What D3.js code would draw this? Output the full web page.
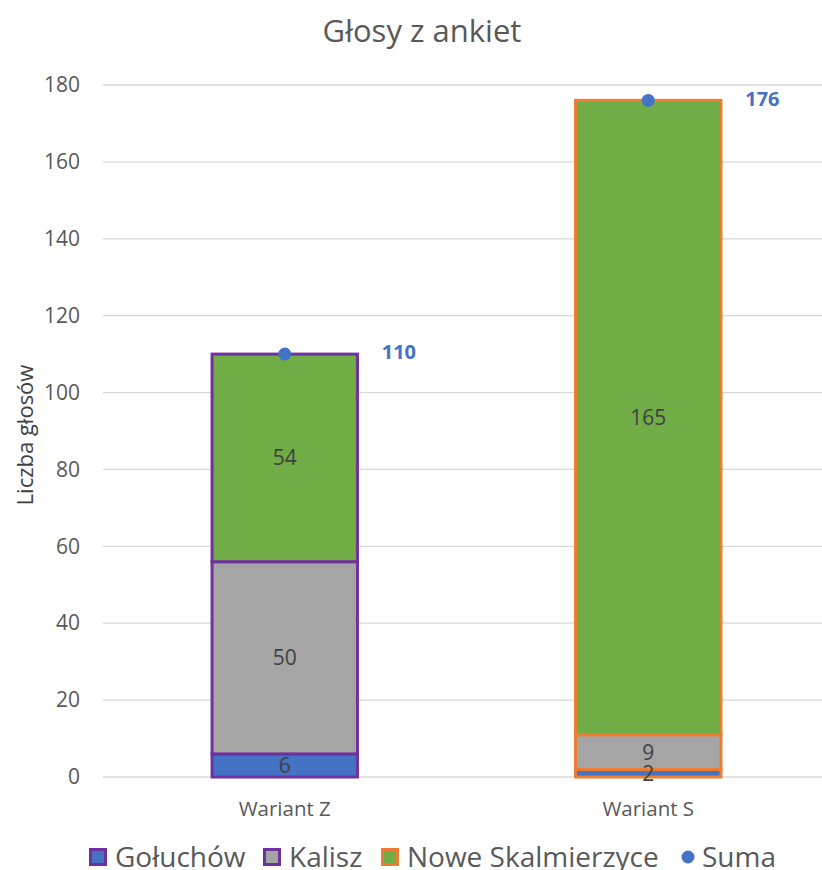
<!DOCTYPE html>
<html>
<head>
<meta charset="utf-8">
<script src="https://cdn.jsdelivr.net/npm/d3@7"></script>
<style>
  body { margin: 0; background: #fff; }
  text { font-family: "Open Sans", "Noto Sans", sans-serif; }
</style>
</head>
<body>
<div id="chart"></div>
<script>
// data
var categories = ["Wariant Z", "Wariant S"];
var seriesNames = ["Gołuchów", "Kalisz", "Nowe Skalmierzyce"];
var goluchow = [6, 2];
var kalisz = [50, 9];
var noweSkalmierzyce = [54, 165];
var suma = [110, 176];
var yTicks = [0, 20, 40, 60, 80, 100, 120, 140, 160, 180];

var seriesFill = ["#4472C4", "#A5A5A5", "#70AD47"];
var legendBorder = ["#7030A0", "#7030A0", "#ED7D31"];
var categoryBorder = ["#7030A0", "#ED7D31"];

var svgWidth = 822, svgHeight = 870;
var margin = { top: 85, right: -8, bottom: 93, left: 103 };
var chartWidth = svgWidth - margin.left - margin.right;
var chartHeight = svgHeight - margin.top - margin.bottom;

var svg = d3.select("#chart").append("svg")
  .attr("width", svgWidth)
  .attr("height", svgHeight);

var g = svg.append("g")
  .attr("transform", `translate(${margin.left}, ${margin.top})`);

var x = d3.scaleBand().domain(categories).range([0, chartWidth])
  .paddingInner(0.6).paddingOuter(0.3);
var y = d3.scaleLinear().domain([0, 180]).range([chartHeight, 0]);

// gridlines
g.selectAll("line.grid").data(yTicks).enter().append("line")
  .attr("x1", 0).attr("x2", chartWidth)
  .attr("y1", d => y(d)).attr("y2", d => y(d))
  .attr("stroke", "#d9d9d9")
  .attr("stroke-width", 1.3);

// y axis labels
var yAxis = d3.axisLeft(y).tickValues(yTicks).tickSize(0).tickPadding(23);
var yg = g.append("g").call(yAxis);
yg.select(".domain").remove();
yg.selectAll("text").attr("font-size", 21).attr("fill", "#595959")
  .attr("font-family", "'Open Sans', sans-serif");

// x axis labels
var xAxis = d3.axisBottom(x).tickSize(0).tickPadding(24);
var xg = g.append("g").attr("transform", `translate(0, ${chartHeight})`).call(xAxis);
xg.select(".domain").remove();
xg.selectAll("text").attr("font-size", 20.5).attr("fill", "#595959")
  .attr("font-family", "'Open Sans', sans-serif");

// stacked bars
var table = categories.map(function (c, i) {
  return { cat: c, idx: i, "Gołuchów": goluchow[i], "Kalisz": kalisz[i], "Nowe Skalmierzyce": noweSkalmierzyce[i] };
});
var stacked = d3.stack().keys(seriesNames)(table);

stacked.forEach(function (layer, si) {
  g.append("g").selectAll("rect").data(layer).enter().append("rect")
    .attr("x", d => x(d.data.cat))
    .attr("width", x.bandwidth())
    .attr("y", d => y(d[1]))
    .attr("height", d => y(d[0]) - y(d[1]))
    .attr("fill", seriesFill[si])
    .attr("stroke", d => categoryBorder[d.data.idx])
    .attr("stroke-width", 3);
});

stacked.forEach(function (layer, si) {
  g.append("g").selectAll("text").data(layer).enter().append("text")
    .attr("x", d => x(d.data.cat) + x.bandwidth() / 2)
    .attr("y", d => y((d[0] + d[1]) / 2))
    .attr("dy", "0.36em")
    .attr("text-anchor", "middle")
    .attr("font-size", 21)
    .attr("fill", "#404040")
    .text(d => d[1] - d[0]);
});

// suma points
g.selectAll("circle.sum").data(suma).enter().append("circle")
  .attr("cx", (d, i) => x(categories[i]) + x.bandwidth() / 2)
  .attr("cy", d => y(d))
  .attr("r", 6.5)
  .attr("fill", "#4472C4");

g.selectAll("text.sum").data(suma).enter().append("text")
  .attr("x", (d, i) => x(categories[i]) + x.bandwidth() / 2 + 97)
  .attr("y", d => y(d) - 2)
  .attr("dy", "0.36em")
  .attr("font-size", 20)
  .attr("font-weight", "bold")
  .attr("fill", "#4472C4")
  .text(d => d);

// title
svg.append("text")
  .attr("x", 422).attr("y", 42)
  .attr("text-anchor", "middle")
  .attr("font-size", 31)
  .attr("fill", "#595959")
  .text("Głosy z ankiet");

// y label
svg.append("text")
  .attr("transform", "translate(33, 435) rotate(-90)")
  .attr("text-anchor", "middle")
  .attr("font-size", 22)
  .attr("fill", "#404040")
  .text("Liczba głosów");

// legend
var legendItems = seriesNames.map(function (n, i) {
  return { name: n, fill: seriesFill[i], stroke: legendBorder[i], type: "rect" };
});
legendItems.push({ name: "Suma", fill: "#4472C4", type: "dot" });
var legendX = [89, 263, 381, 681];

var leg = svg.append("g");
legendItems.forEach(function (d, i) {
  var lx = legendX[i];
  if (d.type === "rect") {
    leg.append("rect").attr("x", lx + 1.5).attr("y", 849.5).attr("width", 15).attr("height", 15)
      .attr("fill", d.fill).attr("stroke", d.stroke).attr("stroke-width", 3);
  } else {
    leg.append("circle").attr("cx", lx + 7).attr("cy", 857).attr("r", 6.5).attr("fill", d.fill);
  }
  leg.append("text")
    .attr("x", lx + (d.type === "rect" ? 26 : 21))
    .attr("y", 867)
    .attr("font-size", 28)
    .attr("fill", "#595959")
    .text(d.name);
});
</script>
</body>
</html>
